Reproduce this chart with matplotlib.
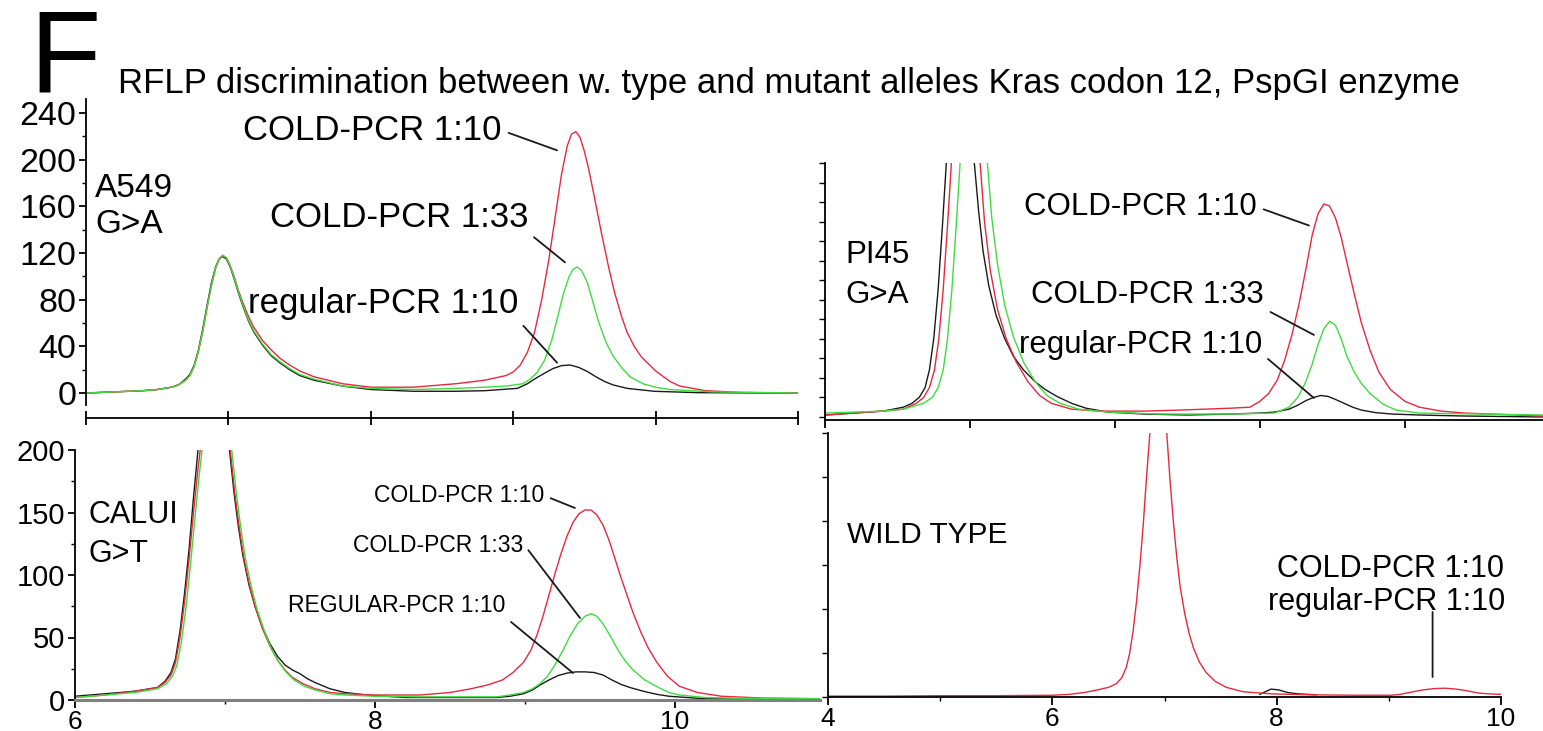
import matplotlib
matplotlib.use('Agg')
import matplotlib.pyplot as plt
from matplotlib.ticker import MultipleLocator, NullFormatter

plt.rcParams['font.family'] = ['Liberation Sans', 'DejaVu Sans']

RED = '#e8283c'
GREEN = '#3fdc3f'
BLACK = '#1a1a1a'

# ---- A549 G>A (top left) ----
tl_red_x = [6.0, 6.2, 6.4, 6.5, 6.6, 6.65, 6.7, 6.73, 6.76, 6.79, 6.82, 6.85, 6.88, 6.91, 6.935, 6.96,
            6.985, 7.01, 7.04, 7.07, 7.1, 7.14, 7.18, 7.24, 7.3, 7.36, 7.43, 7.5, 7.6, 7.8, 8.0, 8.3,
            8.6, 8.8, 8.95, 9.0, 9.05, 9.1, 9.15, 9.2, 9.25, 9.3, 9.34, 9.38, 9.41, 9.44, 9.47, 9.5,
            9.53, 9.57, 9.62, 9.67, 9.71, 9.76, 9.8, 9.85, 9.9, 10.0, 10.1, 10.17, 10.35, 10.6, 11.0]
tl_red_y = [0, 1, 2, 3, 5, 7, 11, 15, 23, 36, 53, 73, 92, 107, 115, 118, 116, 110, 100, 88, 78, 66, 56,
            45, 37, 30, 24, 19, 14, 8, 5, 5, 8, 11, 15, 18, 24, 35, 52, 80, 114, 155, 188, 212, 222,
            224, 219, 207, 192, 168, 137, 108, 87, 66, 52, 40, 31, 19, 10, 6, 2, 0.5, 0]
tl_green_x = [6.0, 6.2, 6.4, 6.5, 6.6, 6.65, 6.7, 6.73, 6.76, 6.79, 6.82, 6.85, 6.88, 6.91, 6.935, 6.96,
              6.985, 7.01, 7.04, 7.07, 7.1, 7.14, 7.18, 7.24, 7.3, 7.36, 7.43, 7.5, 7.6, 7.8, 8.0, 8.3,
              8.6, 8.8, 8.95, 9.07, 9.12, 9.17, 9.22, 9.27, 9.31, 9.35, 9.39, 9.42, 9.45, 9.48, 9.52,
              9.56, 9.6, 9.65, 9.7, 9.76, 9.82, 9.91, 10.0, 10.1, 10.4, 11.0]
tl_green_y = [0, 1, 2, 3, 5, 7, 11, 15, 23, 36, 53, 73, 92, 107, 115, 118, 116, 110, 99, 87, 76, 63, 53,
              42, 33, 27, 21, 16, 12, 6, 4, 3, 4, 5, 6, 8, 12, 18, 28, 45, 64, 84, 99, 106, 108, 105,
              95, 78, 61, 44, 32, 22, 14, 8, 5, 3, 1, 0]
tl_black_x = [6.0, 6.2, 6.4, 6.5, 6.6, 6.65, 6.7, 6.73, 6.76, 6.79, 6.82, 6.85, 6.88, 6.91, 6.935, 6.96,
              6.985, 7.01, 7.04, 7.07, 7.1, 7.14, 7.18, 7.24, 7.3, 7.36, 7.43, 7.5, 7.6, 7.8, 8.0, 8.3,
              8.6, 8.8, 9.03, 9.1, 9.15, 9.22, 9.28, 9.34, 9.4, 9.46, 9.52, 9.58, 9.64, 9.7, 9.8, 9.99,
              10.3, 11.0]
tl_black_y = [0, 1, 2, 3, 5, 7, 12, 16, 24, 37, 55, 75, 94, 108, 115, 117, 115, 109, 98, 86, 75, 62, 52,
              41, 32, 26, 20, 15, 11, 6, 3, 1.5, 1.5, 2, 4, 8, 12, 17, 21, 23.5, 24, 22, 18.5, 14, 10,
              7, 4, 1.5, 0.3, 0]

# ---- PI45 G>A (top right) ----
tr_black_x = [4.0, 4.2, 4.4, 4.54, 4.6, 4.65, 4.69, 4.72, 4.75, 4.78, 4.81, 4.835, 4.86, 5.0, 5.03, 5.06,
              5.09, 5.13, 5.18, 5.24, 5.3, 5.37, 5.45, 5.52, 5.6, 5.7, 5.8, 5.95, 6.2, 6.5, 6.8, 7.0,
              7.1, 7.2, 7.26, 7.32, 7.37, 7.42, 7.47, 7.52, 7.58, 7.64, 7.7, 7.8, 7.91, 8.1, 8.4, 8.95]
tr_black_y = [1, 2, 3, 5, 7, 10, 15, 24, 40, 65, 98, 128, 160, 160, 130, 105, 85, 67, 52, 40, 31, 24,
              18, 14, 10.5, 7, 4.5, 2.5, 1.5, 1, 1.5, 2, 2.5, 4, 6, 8.5, 10, 11, 10.5, 9, 7, 5, 3.5, 2.2,
              1.5, 1, 0.5, 0]
tr_red_x = [4.0, 4.2, 4.4, 4.54, 4.63, 4.68, 4.72, 4.755, 4.785, 4.815, 4.845, 4.87, 4.895, 5.04, 5.07,
            5.1, 5.14, 5.19, 5.25, 5.32, 5.4, 5.48, 5.56, 5.7, 5.9, 6.2, 6.44, 6.8, 6.93, 7.0, 7.06,
            7.12, 7.17, 7.22, 7.27, 7.32, 7.36, 7.4, 7.44, 7.48, 7.52, 7.56, 7.6, 7.65, 7.7, 7.76, 7.82,
            7.9, 8.0, 8.1, 8.25, 8.41, 8.95]
tr_red_y = [1, 2, 3, 4, 7, 10, 15, 24, 40, 65, 98, 128, 160, 160, 130, 100, 75, 55, 40, 28, 18, 11, 7,
            4, 3, 3, 3.5, 4.5, 5, 8, 12, 19, 29, 42, 58, 77, 93, 104, 109, 108, 102, 92, 79, 63, 48, 34,
            23, 14, 8, 5, 3, 2, 0.5]
tr_green_x = [4.0, 4.2, 4.4, 4.54, 4.68, 4.74, 4.78, 4.815, 4.845, 4.875, 4.905, 4.93, 4.955, 5.09,
              5.12, 5.15, 5.19, 5.24, 5.3, 5.37, 5.45, 5.53, 5.62, 5.75, 5.95, 6.3, 6.8, 7.1, 7.2, 7.26,
              7.31, 7.36, 7.4, 7.44, 7.48, 7.52, 7.56, 7.6, 7.65, 7.7, 7.76, 7.85, 7.94, 8.1, 8.95]
tr_green_y = [2, 2.5, 3, 4, 7, 10, 15, 24, 40, 65, 98, 128, 160, 160, 130, 102, 78, 57, 41, 28, 18, 11,
              7, 4, 2.5, 1.5, 1.5, 2, 5, 10, 17, 27, 37, 45, 49, 47, 40, 31, 23, 17, 12, 6.5, 3.5, 2, 1]

# ---- CALUI G>T (bottom left) ----
bl_black_x = [6.0, 6.2, 6.4, 6.55, 6.6, 6.64, 6.67, 6.7, 6.73, 6.76, 6.79, 6.82, 6.85, 7.0, 7.03, 7.06,
              7.09, 7.12, 7.16, 7.2, 7.25, 7.3, 7.35, 7.4, 7.45, 7.5, 7.55, 7.6, 7.7, 7.8, 7.94, 8.2,
              8.5, 8.81, 8.9, 8.99, 9.05, 9.1, 9.16, 9.22, 9.28, 9.34, 9.4, 9.46, 9.52, 9.58, 9.64, 9.7,
              9.79, 9.88, 9.96, 10.2, 11.0]
bl_black_y = [3, 5, 7, 10, 15, 22, 33, 55, 85, 120, 162, 200, 240, 240, 200, 166, 138, 115, 92, 75, 58,
              45, 35, 28, 24, 21, 17, 14, 9, 6, 4, 2, 2, 2, 3, 5, 8, 12, 16, 19.5, 21.5, 22.5, 22.5, 22,
              20, 16, 12.5, 10, 7, 4.5, 3, 1, 0]
bl_red_x = [6.0, 6.2, 6.4, 6.55, 6.6, 6.64, 6.67, 6.7, 6.73, 6.76, 6.79, 6.82, 6.845, 6.87, 7.0, 7.035,
            7.065, 7.095, 7.125, 7.165, 7.2, 7.25, 7.3, 7.35, 7.4, 7.45, 7.52, 7.6, 7.7, 7.8, 8.0, 8.3,
            8.5, 8.64, 8.75, 8.85, 8.92, 8.99, 9.04, 9.08, 9.12, 9.16, 9.2, 9.24, 9.28, 9.32, 9.36, 9.4,
            9.44, 9.48, 9.52, 9.56, 9.6, 9.64, 9.68, 9.72, 9.77, 9.82, 9.88, 9.95, 10.03, 10.15, 10.31,
            10.6, 11.0]
bl_red_y = [2, 4, 7, 10, 14, 20, 30, 50, 78, 112, 150, 185, 210, 235, 235, 200, 166, 138, 114, 91, 75,
            57, 43, 32, 24, 18, 13, 9, 6, 5, 4, 4, 6, 9, 12, 16, 22, 30, 40, 52, 67, 84, 101, 117, 131,
            142, 149, 152, 152, 148, 140, 128, 113, 98, 84, 70, 55, 42, 30, 19, 11, 6, 3, 1.5, 1]
bl_green_x = [6.0, 6.2, 6.4, 6.55, 6.61, 6.65, 6.68, 6.71, 6.74, 6.77, 6.8, 6.83, 6.855, 6.88, 7.0,
              7.045, 7.075, 7.105, 7.135, 7.175, 7.21, 7.26, 7.31, 7.36, 7.41, 7.46, 7.53, 7.6, 7.7,
              7.8, 8.0, 8.3, 8.6, 8.81, 8.9, 8.99, 9.05, 9.1, 9.15, 9.2, 9.25, 9.3, 9.35, 9.4, 9.44,
              9.48, 9.52, 9.57, 9.62, 9.67, 9.72, 9.8, 9.89, 9.96, 10.03, 10.2, 10.4, 11.0]
bl_green_y = [2, 4, 6, 9, 13, 19, 28, 47, 74, 108, 146, 182, 208, 232, 232, 200, 166, 138, 114, 91, 74,
              56, 41, 30, 22, 16, 11, 8, 5, 4, 3, 2.5, 2.5, 2.5, 4, 6, 9, 13, 19, 28, 39, 51, 61, 67,
              69, 67, 61, 51, 40, 31, 24, 16, 10, 6, 4, 2, 1.5, 1]

# ---- WILD TYPE (bottom right) ----
br_red_x = [4.0, 4.5, 5.0, 5.5, 6.0, 6.15, 6.28, 6.4, 6.5, 6.57, 6.62, 6.66, 6.69, 6.72, 6.75, 6.78,
            6.81, 6.84, 6.87, 6.9, 7.0, 7.02, 7.05, 7.08, 7.11, 7.14, 7.18, 7.22, 7.26, 7.31, 7.37, 7.45,
            7.55, 7.7, 7.96, 8.3, 8.7, 9.02, 9.1, 9.2, 9.3, 9.4, 9.5, 9.6, 9.7, 9.8, 9.9, 10.0]
br_red_y = [1, 1, 1.5, 1.5, 2, 3, 5, 8, 11, 15, 22, 34, 50, 75, 108, 148, 195, 250, 300, 340, 340, 300,
            245, 198, 158, 125, 95, 72, 55, 40, 28, 18, 11, 6, 3.5, 2.5, 2, 2, 3, 5.5, 8, 9.5, 10, 9,
            7, 4.5, 3.5, 3]
br_black_x = [7.85, 7.95, 8.02, 8.1, 8.2, 8.35]
br_black_y = [3, 9, 8, 5, 3.5, 2.5]

W, H = 1543, 731


def box(l, t, r, b):
    return [l / W, 1 - b / H, (r - l) / W, (b - t) / H]


fig = plt.figure(figsize=(W / 100, H / 100), dpi=100)

ax_tl = fig.add_axes(box(86, 99, 798, 404.7))
ax_tr = fig.add_axes(box(825, 163, 1543, 419.9))
ax_bl = fig.add_axes(box(75, 450, 820, 700))
ax_br = fig.add_axes(box(828, 433, 1501, 697))

for ax in (ax_tl, ax_tr, ax_bl, ax_br):
    ax.spines['top'].set_visible(False)
    ax.spines['right'].set_visible(False)
    ax.spines['left'].set_linewidth(1.3)
    ax.spines['bottom'].set_linewidth(1.3)
    ax.patch.set_alpha(0)

lw = 1.0
ax_tl.plot(tl_black_x, tl_black_y, color=BLACK, lw=lw)
ax_tl.plot(tl_red_x, tl_red_y, color=RED, lw=lw)
ax_tl.plot(tl_green_x, tl_green_y, color=GREEN, lw=lw)
ax_tr.plot(tr_black_x, tr_black_y, color=BLACK, lw=lw)
ax_tr.plot(tr_red_x, tr_red_y, color=RED, lw=lw)
ax_tr.plot(tr_green_x, tr_green_y, color=GREEN, lw=lw)
ax_bl.plot(bl_black_x, bl_black_y, color=BLACK, lw=lw)
ax_bl.plot(bl_red_x, bl_red_y, color=RED, lw=lw)
ax_bl.plot(bl_green_x, bl_green_y, color=GREEN, lw=lw)
ax_br.plot(br_black_x, br_black_y, color=BLACK, lw=lw)
ax_br.plot(br_red_x, br_red_y, color=RED, lw=lw)

# top left axes
ax_tl.set_xlim(6, 11)
ax_tl.set_ylim(-10, 252)
ax_tl.spines['bottom'].set_position(('outward', 9.6))
ax_tl.xaxis.set_major_locator(MultipleLocator(1))
ax_tl.xaxis.set_major_formatter(NullFormatter())
ax_tl.tick_params(axis='x', direction='inout', length=10, width=1.3)
ax_tl.yaxis.set_major_locator(MultipleLocator(40))
ax_tl.yaxis.set_minor_locator(MultipleLocator(20))
ax_tl.tick_params(axis='y', which='major', length=5, width=1.3, labelsize=24.5, pad=2)
ax_tl.tick_params(axis='y', which='minor', length=3, width=1)

# top right axes
ax_tr.set_xlim(4, 8.952)
ax_tr.set_ylim(-1.5, 130)
ax_tr.xaxis.set_major_locator(MultipleLocator(1))
ax_tr.xaxis.set_major_formatter(NullFormatter())
ax_tr.yaxis.set_major_locator(MultipleLocator(10))
ax_tr.yaxis.set_major_formatter(NullFormatter())
ax_tr.tick_params(axis='x', length=6, width=1.3)
ax_tr.tick_params(axis='y', length=4, width=1)

# bottom left axes
ax_bl.set_xlim(6, 10.967)
ax_bl.set_ylim(0, 200)
ax_bl.spines['bottom'].set_color('#808080')
ax_bl.spines['bottom'].set_linewidth(2.2)
ax_bl.xaxis.set_major_locator(MultipleLocator(2))
ax_bl.xaxis.set_minor_locator(MultipleLocator(1))
ax_bl.yaxis.set_major_locator(MultipleLocator(50))
ax_bl.yaxis.set_minor_locator(MultipleLocator(25))
ax_bl.tick_params(axis='x', which='major', length=6, width=1.3, labelsize=19, pad=1)
ax_bl.tick_params(axis='x', which='minor', length=3, width=1)
ax_bl.tick_params(axis='y', which='major', length=5, width=1.3, labelsize=21, pad=2)
ax_bl.tick_params(axis='y', which='minor', length=3, width=1)

# bottom right axes
ax_br.set_xlim(4, 10)
ax_br.set_ylim(0, 300)
ax_br.xaxis.set_major_locator(MultipleLocator(2))
ax_br.xaxis.set_minor_locator(MultipleLocator(1))
ax_br.yaxis.set_major_locator(MultipleLocator(50))
ax_br.yaxis.set_major_formatter(NullFormatter())
ax_br.tick_params(axis='x', which='major', length=6, width=1.3, labelsize=19, pad=1)
ax_br.tick_params(axis='x', which='minor', length=3, width=1)
ax_br.tick_params(axis='y', length=4, width=1)

# headline
fig.text(0.019, 1 - 92 / H, 'F', fontsize=84, va='baseline', ha='left')
fig.text(118 / W, 1 - 93 / H,
         'RFLP discrimination between w. type and mutant alleles Kras codon 12, PspGI enzyme',
         fontsize=25, va='baseline', ha='left')


def label(ax, text, xy, xytext, size, rel=(1, 0.5)):
    ax.annotate(text, xy=xy, xytext=xytext, textcoords='data', fontsize=size, ha='right',
                va='baseline', annotation_clip=False,
                arrowprops=dict(arrowstyle='-', color=BLACK, lw=1.3, relpos=rel,
                                shrinkA=3, shrinkB=0))


# panel names
ax_tl.text(6.063, 168, 'A549', fontsize=24, va='baseline')
ax_tl.text(6.063, 137, 'G>A', fontsize=24, va='baseline')
ax_tr.text(4.138, 78.8, 'PI45', fontsize=22.5, va='baseline')
ax_tr.text(4.138, 58.3, 'G>A', fontsize=22.5, va='baseline')
ax_bl.text(6.093, 141.6, 'CALUI', fontsize=22, va='baseline')
ax_bl.text(6.093, 110.4, 'G>T', fontsize=22, va='baseline')
ax_br.text(4.169, 175, 'WILD TYPE', fontsize=21.5, va='baseline')

# peak labels
label(ax_tl, 'COLD-PCR 1:10', (9.308, 208), (8.921, 216.9), 25)
label(ax_tl, 'COLD-PCR 1:33', (9.364, 112), (9.104, 142.3), 25, rel=(1, 0.05))
label(ax_tl, 'regular-PCR 1:10', (9.308, 26), (9.034, 68.6), 25, rel=(1, 0.0))

label(ax_tr, 'COLD-PCR 1:10', (7.338, 98), (6.979, 103.4), 22.5)
label(ax_tr, 'COLD-PCR 1:33', (7.372, 42), (7.028, 58.3), 22.5, rel=(1, 0.05))
label(ax_tr, 'regular-PCR 1:10', (7.372, 9.7), (7.014, 32.8), 22.5, rel=(1, 0.2))

label(ax_bl, 'COLD-PCR 1:10', (9.333, 153.6), (9.127, 158.4), 16.5)
label(ax_bl, 'COLD-PCR 1:33', (9.367, 65.6), (8.987, 118.4), 16.5, rel=(1, 0.6))
label(ax_bl, 'REGULAR-PCR 1:10', (9.32, 21.6), (8.867, 70.4), 16.5, rel=(1, 0.0))

ax_br.text(10.025, 136, 'COLD-PCR 1:10', fontsize=22, ha='right', va='baseline')
ax_br.text(10.04, 99, 'regular-PCR 1:10', fontsize=22, ha='right', va='baseline')
ax_br.annotate('', xy=(9.39, 22.7), xytext=(9.39, 96.6),
               arrowprops=dict(arrowstyle='-', color=BLACK, lw=1.3, shrinkA=0, shrinkB=0))

fig.savefig('out.png', dpi=100)
